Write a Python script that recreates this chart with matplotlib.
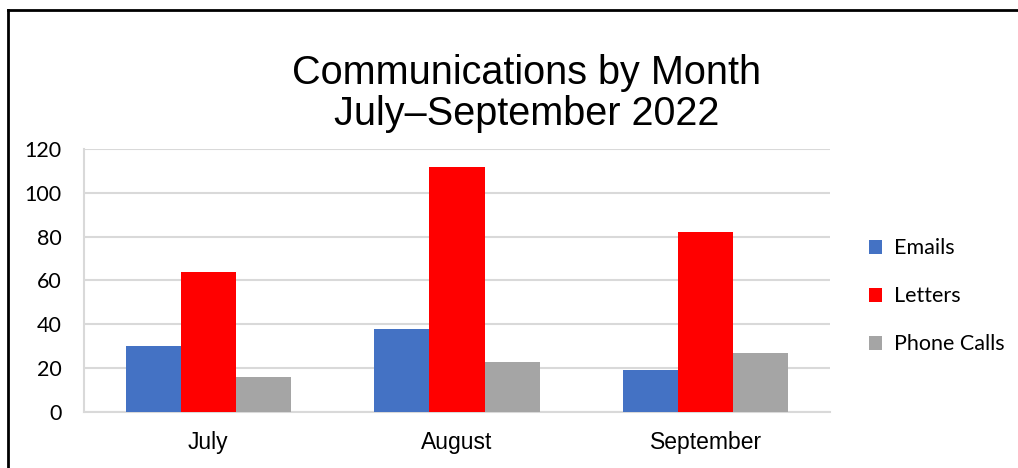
import numpy as np
import matplotlib.pyplot as plt
from matplotlib.lines import Line2D

months = ['July', 'August', 'September']
emails = [30, 38, 19]
letters = [64, 112, 82]
phone_calls = [16, 23, 27]
series_names = ['Emails', 'Letters', 'Phone Calls']
colors = ['#4472C4', '#FF0000', '#A5A5A5']
yticks = [0, 20, 40, 60, 80, 100, 120]

fig = plt.figure(figsize=(10.18, 4.68), dpi=100)
ax = fig.add_axes([0.0825, 0.1197, 0.7328, 0.5619])

x = np.arange(len(months))
w = 0.222
for i, (vals, name) in enumerate(zip([emails, letters, phone_calls], series_names)):
    ax.bar(x + (i - 1) * w, vals, width=w, color=colors[i], label=name, zorder=3)

ax.set_xlim(-0.5, 2.5)
ax.set_ylim(0, 120)
ax.set_yticks(yticks)
ax.set_yticklabels([str(t) for t in yticks], fontfamily='Lato', fontsize=15.5)
ax.set_xticks(x)
ax.set_xticklabels(months, fontfamily='Liberation Sans', fontsize=16.5)
ax.tick_params(axis='y', length=0, pad=16)
ax.tick_params(axis='x', length=0, pad=14)
ax.grid(axis='y', color='#D9D9D9', linewidth=1.5, zorder=0)
for s in ['top', 'right']:
    ax.spines[s].set_visible(False)
for s in ['left', 'bottom']:
    ax.spines[s].set_color('#D9D9D9')
    ax.spines[s].set_linewidth(1.5)

fig.text(0.517, 0.8, 'Communications by Month\nJuly\u2013September 2022',
         ha='center', va='center', fontsize=28.5, fontfamily='Liberation Sans',
         linespacing=1.1)

leg = ax.legend(loc='center left', bbox_to_anchor=(1.026, 0.44), frameon=False,
                prop={'family': 'Lato', 'size': 15.5}, handlelength=0.6,
                handleheight=0.6, handletextpad=0.55, labelspacing=1.3)

# frame lines round the chart (left and top only)
fig.add_artist(Line2D([8 / 1018, 8 / 1018], [0, 1 - 10 / 468], color='black',
                      linewidth=2, transform=fig.transFigure))
fig.add_artist(Line2D([8 / 1018, 1], [1 - 10 / 468, 1 - 10 / 468], color='black',
                      linewidth=2, transform=fig.transFigure))

fig.savefig('out.png', dpi=100)
